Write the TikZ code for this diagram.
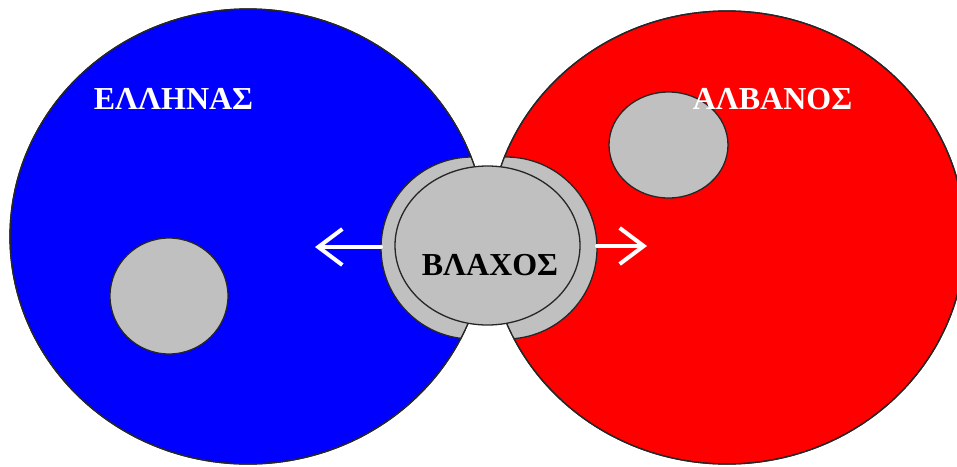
\documentclass[tikz,border=0pt]{standalone}
\usepackage{fontspec}
\setmainfont{Liberation Serif}
\usetikzlibrary{arrows.meta}
\definecolor{pureblue}{RGB}{0,0,255}
\definecolor{purered}{RGB}{255,0,0}
\definecolor{silvergrey}{RGB}{192,192,192}
\begin{document}
\begin{tikzpicture}[x=1pt,y=-1pt,
  outline/.style={draw=black!85,line width=1.3pt},
  greyfill/.style={fill=silvergrey,outline},
  label/.style={font=\fontsize{32}{36}\selectfont\bfseries,inner sep=0pt,anchor=base},
  whitearrow/.style={draw=white,line width=4pt,line cap=round,
    -{Straight Barb[length=24pt,width=36pt,line width=4pt]}}]
\useasboundingbox (0,0) rectangle (957,466);
\clip (0,0) rectangle (957,466);
% big circles
\fill[pureblue] (248,236.5) ellipse [x radius=238,y radius=227.5];
\draw[outline] (248,236.5) ellipse [x radius=238,y radius=227.5];
\fill[purered] (727,237.5) ellipse [x radius=238,y radius=226.5];
\draw[outline] (727,237.5) ellipse [x radius=238,y radius=226.5];
% crescents
\begin{scope}
  \clip (248,236.5) ellipse [x radius=238,y radius=227.5];
  \fill[silvergrey] (472,248) circle [radius=91];
  \draw[outline] (472,248) circle [radius=91];
\end{scope}
\begin{scope}
  \clip (727,237.5) ellipse [x radius=238,y radius=226.5];
  \fill[silvergrey] (506,248) circle [radius=91];
  \draw[outline] (506,248) circle [radius=91];
\end{scope}
\draw[outline] (248,236.5) ellipse [x radius=238,y radius=227.5];
\draw[outline] (727,237.5) ellipse [x radius=238,y radius=226.5];
% inner grey ellipse
\draw[greyfill] (487.5,245.5) ellipse [x radius=92.5,y radius=79.5];
% small grey circles
\draw[greyfill] (169,296) ellipse [x radius=59,y radius=58];
\draw[greyfill] (668.5,145) ellipse [x radius=59.5,y radius=53];
% labels
\node[label,text=white] (ellinas) at (173.5,109) {ΕΛΛΗΝΑΣ};
\node[label,text=white] (alvanos) at (772.5,109) {ΑΛΒΑΝΟΣ};
\node[label,text=black] (vlachos) at (490,275) {ΒΛΑΧΟΣ};
% arrows
\coordinate (lstart) at (381,247);
\coordinate (ltip) at (315,247);
\coordinate (rstart) at (597,246);
\coordinate (rtip) at (647,246);
\draw[whitearrow] (lstart) -- (ltip);
\draw[whitearrow] (rstart) -- (rtip);
\end{tikzpicture}
\end{document}
